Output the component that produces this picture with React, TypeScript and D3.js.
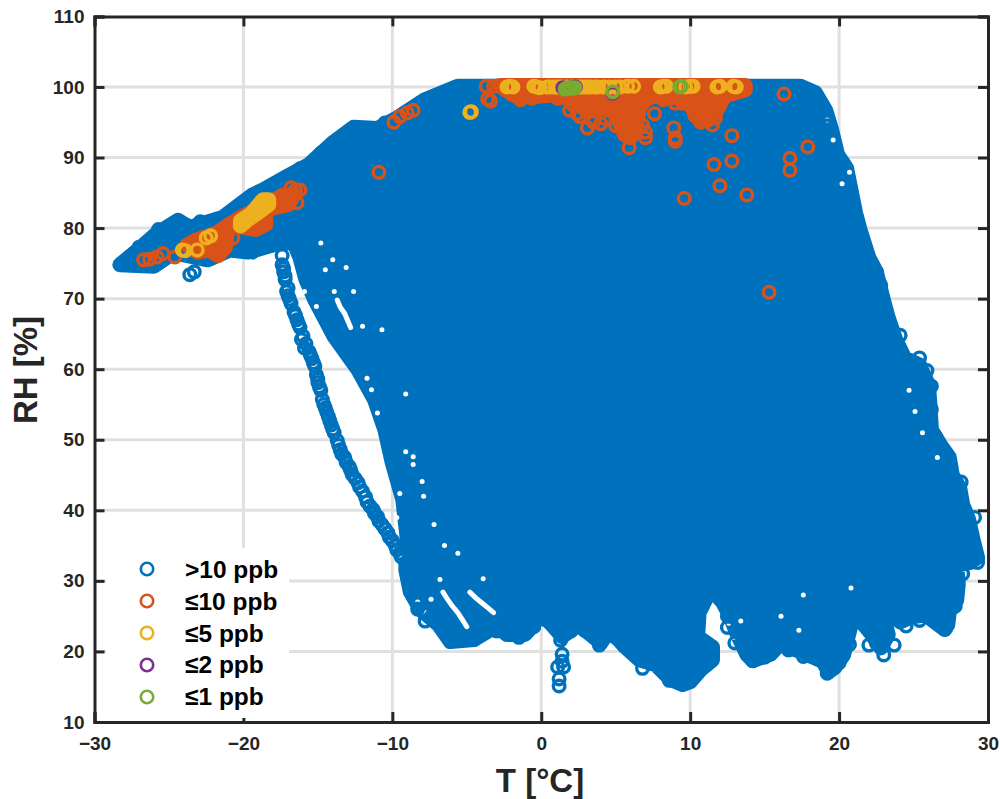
import React, { useEffect, useRef } from "react";
import * as d3 from "d3";

const W = 1000;
const H = 799;
const XTICKS = [-30, -20, -10, 0, 10, 20, 30];
const YTICKS = [10, 20, 30, 40, 50, 60, 70, 80, 90, 100, 110];

const colorBlue = "#0072BD";
const colorOrange = "#D95319";
const colorYellow = "#EDB120";
const colorPurple = "#7E2F8E";
const colorGreen = "#77AC30";

const legendLabels = [">10 ppb", "≤10 ppb", "≤5 ppb", "≤2 ppb", "≤1 ppb"];
const legendColors = [colorBlue, colorOrange, colorYellow, colorPurple, colorGreen];

type P = [number, number];

// outline of the saturated >10 ppb cloud, [T, RH] of the outermost markers
const cloudOutline: P[] = [
  [-28.3, 74.8], [-27.2, 76.7], [-25.9, 79.1], [-24.4, 81.1], [-23.6, 80.1], [-21.4, 81.5], [-19.4, 84.7], [-18.7, 85.4],
  [-17.0, 87.4], [-15.6, 89.0], [-14.0, 92.1], [-12.6, 94.3], [-11.0, 94.1], [-9.7, 95.6], [-7.8, 98.2], [-5.6, 100.1],
  [17.4, 100.1], [18.4, 99.2], [19.1, 96.7], [19.5, 93.9], [19.9, 90.4], [20.5, 88.5], [20.8, 85.4], [21.1, 82.2],
  [21.4, 79.8], [22.0, 75.8], [22.5, 73.8], [23.0, 69.6], [23.3, 67.3], [23.8, 64.2], [24.4, 61.6], [25.4, 60.6],
  [26.0, 57.8], [26.1, 55.0], [26.2, 51.4], [26.8, 49.3], [27.4, 47.5], [27.6, 45.0], [28.1, 43.2], [28.3, 40.8],
  [28.7, 38.7], [29.0, 35.8], [29.3, 33.3], [28.8, 32.6], [27.9, 32.2], [28.0, 29.5], [27.9, 27.3], [27.4, 25.6],
  [27.3, 23.8], [27.1, 23.1], [25.8, 25.2], [24.9, 24.9], [24.1, 24.2], [23.4, 25.9], [22.7, 27.4], [23.3, 22.4],
  [22.8, 20.5], [22.2, 22.4], [21.5, 24.2], [20.9, 24.6], [20.3, 19.5], [19.7, 17.7], [19.3, 17.1], [18.9, 18.6],
  [17.4, 20.0], [16.0, 21.0], [15.4, 19.6], [14.2, 18.7], [13.8, 19.6], [13.1, 22.7], [12.7, 24.9], [12.2, 26.9],
  [11.4, 28.9], [10.6, 25.5], [10.5, 22.1], [11.5, 20.6], [11.5, 18.8], [10.7, 17.4], [10.0, 15.7], [9.5, 15.3], [8.7, 16.0],
  [7.7, 18.1], [6.6, 18.8], [5.6, 20.7], [4.6, 23.1], [4.0, 21.2], [3.3, 22.4], [2.5, 23.8], [1.4, 22.1],
  [0.7, 23.8], [-0.1, 25.6], [-0.5, 23.8], [-1.1, 22.4], [-2.3, 22.4], [-2.9, 23.4], [-3.4, 23.1], [-4.5, 21.7],
  [-6.1, 21.4], [-6.9, 23.8], [-8.1, 25.9], [-8.8, 28.5], [-9.1, 31.6], [-8.8, 32.3], [-9.3, 41.5], [-10.0, 46.7],
  [-10.5, 51.4], [-11.2, 55.7], [-12.3, 59.9], [-13.9, 64.6], [-15.2, 69.8], [-15.8, 72.7], [-16.2, 75.8], [-16.6, 77.9],
  [-17.5, 77.9], [-19.7, 76.6], [-20.9, 76.9], [-22.4, 75.5], [-24.7, 76.5], [-26.0, 74.6],
];

// the separate low-RH chain at the left of the cloud
const chainPoints: P[] = [
  [-17.4, 74.8], [-17.3, 73.8], [-17.2, 72.7], [-17.0, 71.5], [-17.0, 70.4], [-16.8, 69.3], [-16.6, 68.1], [-16.4, 67.0],
  [-16.2, 65.9], [-16.0, 64.7], [-15.8, 63.6], [-15.6, 62.5], [-15.4, 61.5], [-15.2, 60.4], [-15.1, 59.2], [-15.0, 58.1],
  [-14.8, 57.0], [-14.7, 55.7], [-14.5, 54.5], [-14.3, 53.3], [-14.1, 52.1], [-13.9, 51.0], [-13.7, 49.9], [-13.5, 48.6],
  [-13.2, 47.5], [-12.9, 46.2], [-12.7, 45.1], [-12.3, 43.9], [-12.0, 42.7], [-11.7, 41.2], [-11.3, 40.1], [-11.0, 39.1],
  [-10.7, 38.0], [-10.3, 36.8], [-10.0, 35.7], [-9.7, 34.4], [-9.4, 33.4], [-9.1, 32.3],
  [-17.3, 74.3], [-17.2, 73.2], [-17.1, 71.0], [-16.9, 69.9], [-16.5, 67.6], [-16.3, 66.4], [-16.1, 64.2], [-15.9, 63.0],
  [-15.5, 62.0], [-15.3, 60.9], [-15.0, 58.6], [-14.9, 57.5], [-14.6, 55.0], [-14.4, 53.9], [-14.2, 52.7], [-14.0, 51.5],
  [-13.6, 49.2], [-13.4, 48.0], [-13.1, 46.8], [-12.8, 45.7], [-12.5, 44.5], [-12.2, 43.3], [-11.8, 41.9], [-11.5, 40.6],
  [-11.2, 39.6], [-10.9, 38.5], [-10.5, 37.4], [-10.2, 36.2], [-9.8, 35.0], [-9.5, 33.9],
];

// stray blue markers sticking out of the cloud edge
const blueEdgePoints: P[] = [
  [19.2, 94.5], [19.8, 89.9], [20.8, 85.1], [20.9, 83.2], [21.6, 76.4], [22.5, 73.8], [22.8, 71.9], [24.1, 64.8], [25.4, 61.6],
  [25.4, 60.5], [25.9, 59.8], [26.2, 57.6], [26.2, 54.3], [26.8, 49.1], [28.2, 44.0], [29.1, 39.0], [29.3, 32.6],
  [23.7, 20.9], [23.0, 19.5], [22.0, 20.9], [13.0, 21.2], [13.7, 20.9], [12.5, 25.0], [12.5, 23.4], [13.1, 22.9],
  [14.2, 18.7], [19.2, 16.9], [17.6, 19.3], [1.4, 19.6], [1.4, 18.6], [1.1, 17.8], [1.5, 17.8], [1.2, 16.1],
  [1.2, 15.1], [8.6, 15.9], [9.5, 15.5], [6.8, 17.6], [8.4, 18.3], [3.9, 20.9], [1.3, 21.6], [-3.0, 22.9],
  [-1.5, 22.0], [-0.5, 23.5], [-4.5, 21.7], [-7.8, 24.3], [-8.3, 26.0], [-24.4, 81.0], [-25.7, 79.8], [-27.0, 77.3],
  [-23.6, 73.4], [-23.3, 73.8], [-21.0, 81.8], [-17.0, 86.8], [-13.8, 91.9], [-12.6, 93.7], [-11.3, 93.4],
  [-20.2, 76.9], [-19.4, 76.6], [-16.5, 78.1], [-17.4, 76.1], [-22.9, 80.9], [-20.0, 82.8], [-18.0, 85.9], [-16.2, 88.4],
  [-14.8, 90.6], [-13.2, 93.3], [-10.5, 94.9], [24.9, 60.9], [26.5, 50.4], [27.5, 46.2], [28.0, 42.2], [28.5, 37.4],
  [28.3, 31.0], [27.8, 26.4], [25.4, 24.4], [24.5, 23.6], [22.5, 21.2], [20.7, 21.0], [20.0, 18.4], [18.0, 19.4],
  [16.6, 20.2], [15.0, 19.2], [5.0, 22.0], [2.9, 23.0], [2.0, 22.9], [0.3, 24.5], [-6.4, 22.6], [-7.4, 24.9],
];

// white specks between the rings, mostly in the left part of the cloud
const cloudGaps: P[] = [
  [-14.8, 77.9], [-14.0, 75.5], [-14.5, 74.1], [-15.9, 71.0], [-15.1, 68.9], [-13.9, 71.0], [-12.6, 71.0], [-12.0, 66.1],
  [-10.7, 65.6], [-11.7, 58.7], [-11.4, 57.1], [-11.0, 53.8], [-9.1, 56.5], [-8.6, 47.6], [-8.6, 46.5],
  [-8.0, 44.1], [-7.9, 42.0], [-9.5, 42.4], [-9.1, 48.3], [-8.3, 27.0], [-7.8, 25.5], [-7.4, 27.4], [-6.8, 30.2], [-3.9, 30.3],
  [-13.1, 74.4], [-9.7, 39.0], [-7.2, 38.0], [-5.6, 33.9], [-6.5, 35.0], [12.6, 24.0], [12.9, 22.0], [13.4, 24.3],
  [19.2, 95.3], [19.6, 92.5], [20.7, 87.9], [20.2, 86.3], [24.7, 57.0], [25.1, 54.0], [25.6, 51.0], [26.6, 47.5],
  [16.1, 25.0], [17.3, 23.0], [20.8, 29.0], [17.6, 28.0],
];

// longer white slivers left open between runs of rings
const sliverUpperLeft: P[] = [[-13.7, 69.8], [-13.5, 68.8], [-13.2, 67.9], [-13.0, 66.9], [-12.8, 65.9]];
const sliverLowerA: P[] = [[-6.6, 28.4], [-6.3, 27.4], [-6.0, 26.5], [-5.6, 25.5], [-5.3, 24.5], [-5.0, 23.5]];
const sliverLowerB: P[] = [[-4.8, 28.4], [-4.4, 27.6], [-4.0, 26.9], [-3.6, 26.2], [-3.2, 25.5]];

const orangePlumeBlob: P[] = [
  [-21.9, 79.2], [-20.2, 81.5], [-18.5, 83.3], [-17.3, 84.7], [-16.6, 84.7], [-17.0, 83.3], [-18.5, 82.6], [-18.5, 80.5],
  [-19.2, 79.8], [-21.0, 80.5], [-21.2, 77.3], [-21.7, 76.1], [-22.3, 76.9], [-23.1, 76.6], [-23.8, 77.6], [-23.2, 78.3],
];

const orangeTopBlob: P[] = [
  [-2.8, 100.2], [13.7, 100.2], [13.7, 99.6], [12.3, 98.7], [11.8, 96.7], [11.2, 95.3], [10.5, 95.6], [10.0, 97.5],
  [9.3, 98.4], [7.6, 98.7], [7.0, 98.2], [6.6, 97.0], [6.4, 94.6], [6.0, 92.8], [5.6, 93.2], [5.2, 95.3], [4.8, 96.5],
  [4.0, 97.0], [3.0, 96.7], [2.1, 98.2], [0.9, 98.9], [-0.7, 98.6], [-1.6, 98.6], [-2.4, 99.6],
];

const orangePoints: P[] = [
  [-26.7, 75.5], [-26.3, 75.6], [-25.8, 75.9], [-25.4, 76.4], [-24.6, 75.9], [-20.7, 78.6], [-16.4, 83.6], [-16.8, 85.7],
  [-16.5, 85.4], [-16.2, 85.4], [-10.9, 87.9], [-9.9, 95.0], [-9.5, 95.8], [-9.0, 96.3], [-8.6, 96.7], [-4.7, 96.4],
  [-3.7, 100.1], [-3.2, 100.1], [-3.4, 98.0], [-3.6, 98.3], [1.9, 96.7], [2.1, 97.5], [2.6, 95.8], [3.1, 94.2],
  [4.0, 94.8], [3.5, 95.0], [1.1, 98.4], [-0.6, 98.4], [-1.4, 98.2], [5.9, 91.4], [6.8, 94.6], [7.0, 92.8],
  [7.0, 93.6], [8.9, 94.2], [9.0, 92.8], [9.0, 97.7], [8.2, 98.2], [6.8, 97.7], [10.3, 96.0], [10.7, 95.0],
  [11.5, 94.6], [11.7, 95.6], [9.5, 97.7], [9.0, 92.3], [9.6, 84.2], [13.8, 84.7], [12.0, 86.0], [11.6, 89.0],
  [12.8, 89.5], [12.8, 93.1], [16.7, 89.9], [16.7, 88.2], [17.9, 91.5], [16.3, 99.0], [15.3, 70.9], [2.4, 96.2], [4.3, 95.5],
  [5.0, 94.5], [7.6, 96.2], [-2.0, 99.0],
];

const yellowPlumeBlob: P[] = [
  [-20.2, 81.0], [-19.5, 82.0], [-18.7, 84.0], [-18.3, 84.0], [-18.3, 83.3], [-19.0, 82.2], [-19.7, 81.2], [-20.2, 80.3],
];

const yellowPoints: P[] = [
  [-23.9, 76.8], [-24.1, 76.9], [-23.1, 76.9], [-22.5, 78.6], [-22.2, 78.9], [-4.7, 96.5], [-4.8, 96.4], [-2.1, 100.1], [-2.3, 100.0], [-1.9, 100.0],
  [-0.3, 100.0], [-0.5, 100.1], [-0.1, 99.9], [0.4, 100.0], [0.6, 100.0], [0.9, 100.0], [1.1, 100.0], [1.3, 100.0], [1.7, 100.0], [2.1, 100.0], [2.5, 100.0], [2.7, 100.0], [2.9, 100.0],
  [3.1, 100.0], [3.3, 100.0], [3.6, 100.0], [3.8, 100.0], [4.2, 100.0], [4.6, 100.0], [5.0, 100.0], [5.3, 100.0], [5.8, 100.1], [6.2, 100.1],
  [8.0, 100.0], [8.2, 100.1], [8.4, 100.1], [11.8, 100.0], [12.0, 100.1], [12.9, 100.1], [13.1, 100.0], [9.7, 100.0], [10.0, 100.1], [10.2, 100.1], [4.8, 99.3],
];

const purplePoints: P[] = [[1.45, 99.9], [1.7, 99.8], [2.0, 99.9], [2.3, 100.0], [4.8, 99.1]];

const greenPoints: P[] = [
  [1.6, 99.7], [1.75, 99.8], [1.9, 99.9], [2.05, 99.8], [2.25, 99.9], [4.8, 99.3], [9.3, 100.0], [9.4, 100.1],
];

export default function App() {
  const svgRef = useRef<SVGSVGElement>(null);

  useEffect(() => {
    const svg = d3.select(svgRef.current);
    svg.selectAll("*").remove();

    const x = d3.scaleLinear().domain([-30, 30]).range([94.5, 988]);
    const y = d3.scaleLinear().domain([10, 110]).range([722, 16.4]);
    const line = d3.line<P>().x((d) => x(d[0])).y((d) => y(d[1]));
    const closedLine = d3.line<P>().x((d) => x(d[0])).y((d) => y(d[1])).curve(d3.curveLinearClosed);

    // grid
    const grid = svg.append("g").attr("stroke", "#e0e0e0").attr("stroke-width", 3);
    XTICKS.slice(1, -1).forEach((t) => {
      grid.append("line").attr("x1", x(t)).attr("x2", x(t)).attr("y1", y(110)).attr("y2", y(10));
    });
    YTICKS.slice(1, -1).forEach((t) => {
      grid.append("line").attr("x1", x(-30)).attr("x2", x(30)).attr("y1", y(t)).attr("y2", y(t));
    });

    const drawBlob = (pts: P[], color: string) => {
      svg.append("path")
        .attr("d", closedLine(pts))
        .attr("fill", color)
        .attr("stroke", color)
        .attr("stroke-width", 15)
        .attr("stroke-linejoin", "round");
    };
    const drawRings = (pts: P[], color: string) => {
      svg.append("g")
        .selectAll("circle")
        .data(pts)
        .enter()
        .append("circle")
        .attr("cx", (d) => x(d[0]))
        .attr("cy", (d) => y(d[1]))
        .attr("r", 5.8)
        .attr("fill", "none")
        .attr("stroke", color)
        .attr("stroke-width", 3.4);
    };

    drawBlob(cloudOutline, colorBlue);
    svg.append("g")
      .selectAll("circle")
      .data(cloudGaps)
      .enter()
      .append("circle")
      .attr("cx", (d) => x(d[0]))
      .attr("cy", (d) => y(d[1]))
      .attr("r", 2.5)
      .attr("fill", "white");
    [sliverUpperLeft, sliverLowerA, sliverLowerB].forEach((pts) => {
      svg.append("path")
        .attr("d", line(pts))
        .attr("fill", "none")
        .attr("stroke", "white")
        .attr("stroke-width", 5)
        .attr("stroke-linecap", "round");
    });
    drawRings(chainPoints, colorBlue);
    drawRings(blueEdgePoints, colorBlue);

    drawBlob(orangePlumeBlob, colorOrange);
    drawBlob(orangeTopBlob, colorOrange);
    drawRings(orangePoints, colorOrange);
    drawBlob(yellowPlumeBlob, colorYellow);
    drawRings(yellowPoints, colorYellow);
    drawRings(purplePoints, colorPurple);
    drawRings(greenPoints, colorGreen);

    // axes box with inward ticks
    const styleAxis = (g: any) => {
      g.selectAll(".domain").attr("stroke", "#262626").attr("stroke-width", 3);
      g.selectAll(".tick line").attr("stroke", "#262626").attr("stroke-width", 3);
      g.selectAll("text").attr("fill", "#262626").attr("font-size", 19).attr("font-weight", 700)
        .attr("font-family", "'Liberation Sans', Arial, sans-serif");
    };
    svg.append("g").attr("transform", `translate(0,${y(10)})`)
      .call(d3.axisBottom(x).tickValues(XTICKS).tickSize(-10).tickPadding(15).tickFormat(d3.format("d")))
      .call(styleAxis);
    svg.append("g").attr("transform", `translate(0,${y(110)})`)
      .call(d3.axisTop(x).tickValues(XTICKS).tickSize(-10).tickFormat(() => ""))
      .call(styleAxis);
    svg.append("g").attr("transform", `translate(${x(-30)},0)`)
      .call(d3.axisLeft(y).tickValues(YTICKS).tickSize(-10).tickPadding(10).tickFormat(d3.format("d")))
      .call(styleAxis);
    svg.append("g").attr("transform", `translate(${x(30)},0)`)
      .call(d3.axisRight(y).tickValues(YTICKS).tickSize(-10).tickFormat(() => ""))
      .call(styleAxis);

    // legend sits on top of the grid and the bottom ticks
    const legend = svg.append("g");
    legend.append("rect").attr("x", 106).attr("y", 548).attr("width", 183).attr("height", 170).attr("fill", "white");
    legendLabels.forEach((label, i) => {
      legend.append("circle")
        .attr("cx", 147)
        .attr("cy", 569 + i * 32)
        .attr("r", 6.2)
        .attr("fill", "none")
        .attr("stroke", legendColors[i])
        .attr("stroke-width", 2.6);
      legend.append("text")
        .attr("x", 185)
        .attr("y", 578 + i * 31.8)
        .attr("font-size", 24.5)
        .attr("font-weight", 700)
        .attr("fill", "black")
        .text(label);
    });

    svg.append("text")
      .attr("x", 540)
      .attr("y", 792)
      .attr("text-anchor", "middle")
      .attr("font-size", 33)
      .attr("font-weight", 700)
      .attr("fill", "#262626")
      .text("T [°C]");
    svg.append("text")
      .attr("transform", "translate(37,370) rotate(-90)")
      .attr("text-anchor", "middle")
      .attr("font-size", 33)
      .attr("font-weight", 700)
      .attr("fill", "#262626")
      .text("RH [%]");
  }, []);

  return (
    <svg
      ref={svgRef}
      width={W}
      height={H}
      fontFamily="'Liberation Sans', Arial, sans-serif"
      style={{ position: "absolute", left: 0, top: 0, background: "white" }}
    />
  );
}
